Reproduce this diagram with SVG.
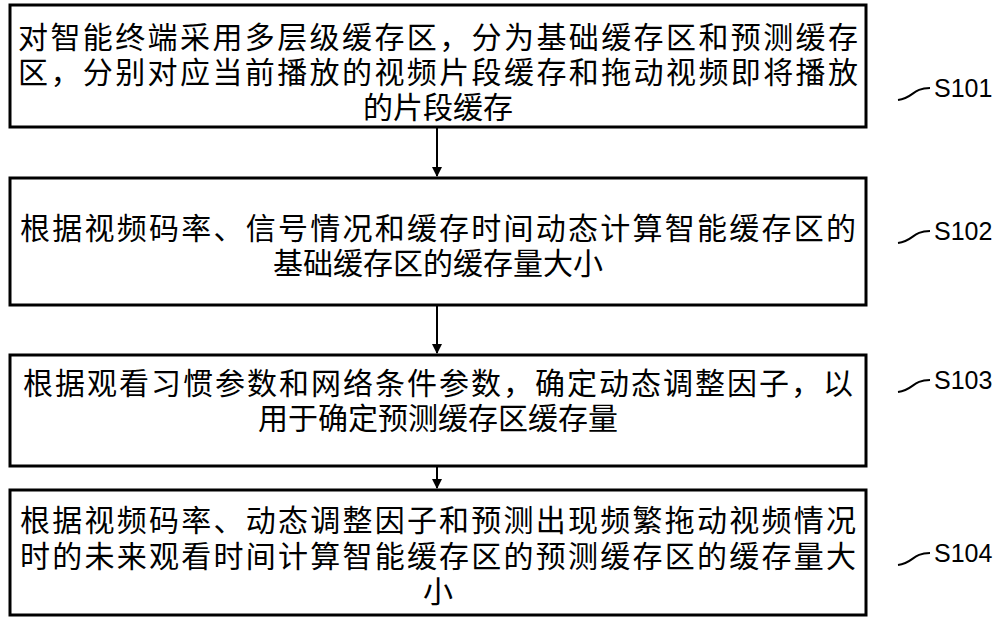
<svg xmlns="http://www.w3.org/2000/svg" width="1000" height="619" viewBox="0 0 1000 619">
<style>
.b{fill:#fff;stroke:#000;stroke-width:3}
.t{font-family:"Noto Sans CJK SC","Liberation Sans",sans-serif;font-size:30px;fill:#000;text-anchor:middle}
.l{font-family:"Liberation Sans","Noto Sans",sans-serif;font-size:25px;fill:#000}
.c{fill:none;stroke:#000;stroke-width:2}
</style>
<defs><marker id="a" markerWidth="10" markerHeight="10" refX="9" refY="5" orient="auto" markerUnits="userSpaceOnUse"><path d="M0,0 L10,5 L0,10 Z" fill="#000"/></marker></defs>
<rect width="1000" height="619" fill="#fff"/>
<g id="n1"><rect class="b" x="10" y="5" width="856" height="122"/>
<text class="t" x="438" y="48" textLength="840">对智能终端采用多层级缓存区，分为基础缓存区和预测缓存</text>
<text class="t" x="438" y="83" textLength="840">区，分别对应当前播放的视频片段缓存和拖动视频即将播放</text>
<text class="t" x="438" y="118">的片段缓存</text></g>
<g id="n2"><rect class="b" x="10" y="178" width="856" height="127"/>
<text class="t" x="438" y="239" textLength="836">根据视频码率、信号情况和缓存时间动态计算智能缓存区的</text>
<text class="t" x="438" y="274">基础缓存区的缓存量大小</text></g>
<g id="n3"><rect class="b" x="10" y="355" width="856" height="111"/>
<text class="t" x="438" y="394" textLength="830">根据观看习惯参数和网络条件参数，确定动态调整因子，以</text>
<text class="t" x="438" y="429">用于确定预测缓存区缓存量</text></g>
<g id="n4"><rect class="b" x="10" y="490" width="856" height="125"/>
<text class="t" x="438" y="531" textLength="836">根据视频码率、动态调整因子和预测出现频繁拖动视频情况</text>
<text class="t" x="438" y="567" textLength="836">时的未来观看时间计算智能缓存区的预测缓存区的缓存量大</text>
<text class="t" x="438" y="602">小</text></g>
<g id="connectors">
<line class="c" x1="437" y1="127" x2="437" y2="176" marker-end="url(#a)"/>
<line class="c" x1="437" y1="305" x2="437" y2="353" marker-end="url(#a)"/>
<line class="c" x1="437" y1="466" x2="437" y2="488" marker-end="url(#a)"/>
<path class="c" d="M898,100 C914,98 912,88 930,88"/>
<path class="c" d="M898,243 C914,241 912,231 930,231"/>
<path class="c" d="M898,392 C914,390 912,380 930,380"/>
<path class="c" d="M898,565 C914,563 912,553 930,553"/>
</g>
<text class="l" x="934" y="97">S101</text>
<text class="l" x="934" y="240">S102</text>
<text class="l" x="934" y="389">S103</text>
<text class="l" x="934" y="562">S104</text>
</svg>
